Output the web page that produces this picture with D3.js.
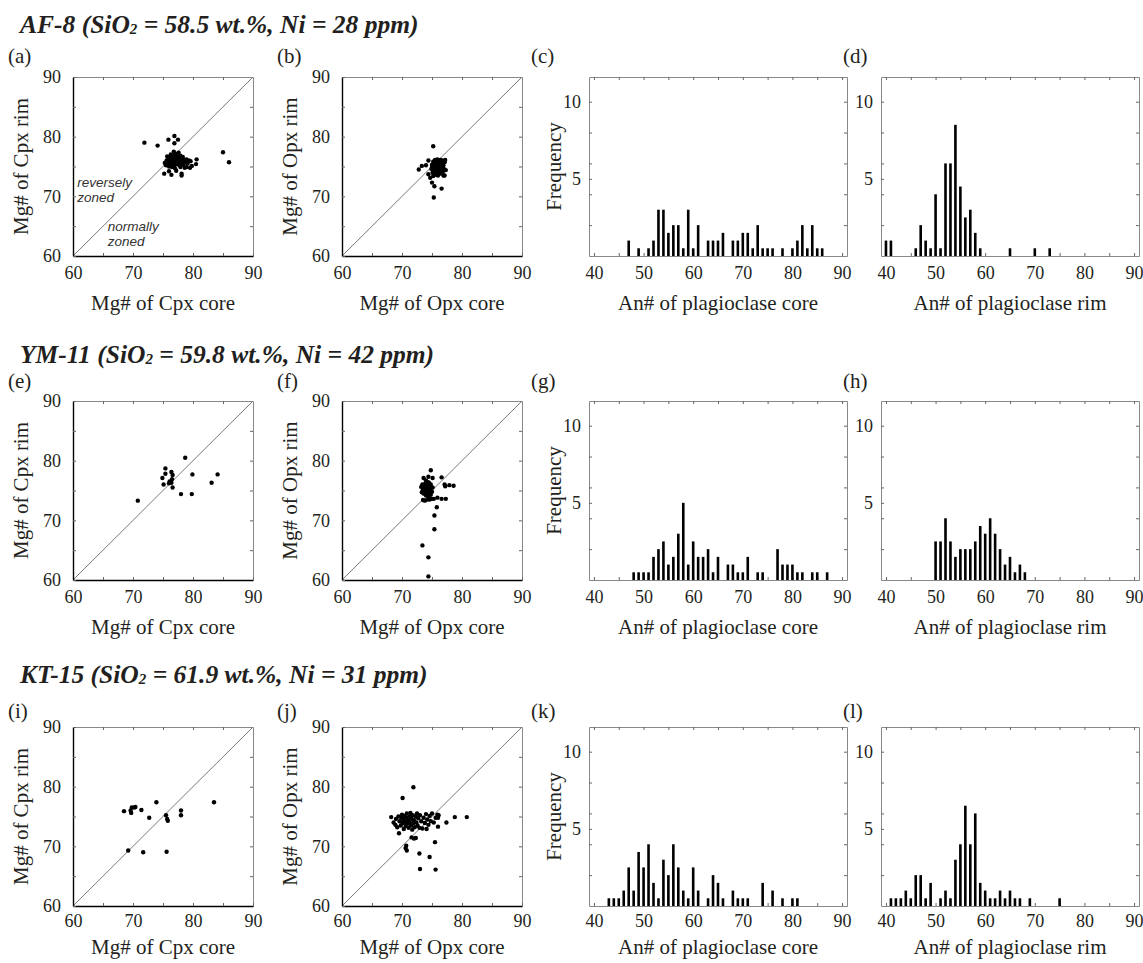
<!DOCTYPE html>
<html><head><meta charset="utf-8">
<script src="https://cdn.jsdelivr.net/npm/d3@7"></script>
<style>body{margin:0;background:#fff}svg{display:block}</style>
</head><body>
<svg id="chart" width="1143" height="963"></svg>
<script>
// ---------- data ----------
const sampleNames = ['AF-8', 'YM-11', 'KT-15'];
const sio2Values = ['58.5', '59.8', '61.9'];
const niValues = ['28', '42', '31'];
const panelLetters = [['(a)','(b)','(c)','(d)'],['(e)','(f)','(g)','(h)'],['(i)','(j)','(k)','(l)']];
const scatterTicks = [60, 70, 80, 90];
const histTicks = [40, 50, 60, 70, 80, 90];
const freqTicks = [5, 10];

// Mg# core vs rim [core, rim]
const cpxAF8 = [[71.9,79.0],[74.1,78.5],[75.9,79.5],[76.9,80.1],[77.5,79.5],[76.9,78.9],[85.0,77.4],[86.0,75.7],
 [75.2,73.8],[76.4,73.6],[77.2,74.3],[78.1,73.5],[78.1,73.8],[78.9,74.9],[79.8,75.1],[80.6,76.2],[80.5,75.4],[79.5,74.8],[76.0,74.2],
 [75.3,75.6],[75.5,75.2],[75.6,76.0],[75.8,75.5],[75.9,76.3],[76.0,75.0],[76.1,75.8],[76.2,76.5],[76.3,75.3],[76.4,76.0],[76.5,76.8],
 [76.6,75.6],[76.7,76.2],[76.8,75.1],[76.9,76.6],[77.0,75.9],[77.0,77.2],[77.1,76.4],[77.2,75.4],[77.3,76.9],[77.4,76.1],[77.5,75.7],
 [77.6,77.3],[77.6,76.5],[77.7,75.2],[77.8,76.0],[77.9,76.8],[78.0,75.5],[78.1,76.3],[78.2,75.9],[78.3,76.6],[78.4,75.3],[78.5,76.1],
 [78.7,75.7],[78.9,76.2],[79.1,75.5],[79.3,76.0],[79.6,75.9],[76.3,77.0],[76.8,77.5],[77.4,77.0],[75.7,76.7],[77.9,74.9],[78.6,74.8],
 [77.0,74.7],[76.5,74.9]];
const opxAF8 = [[75.2,78.4],[72.8,74.5],[73.3,75.1],[74.0,75.2],[74.4,76.0],[74.4,73.7],[74.7,73.1],[75.0,72.3],[75.4,71.7],[75.3,69.8],
 [76.6,71.3],[77.2,76.1],[77.1,73.5],
 [74.9,74.6],[75.0,75.3],[75.1,74.0],[75.2,75.8],[75.3,74.8],[75.4,75.4],[75.5,74.2],[75.5,76.1],[75.6,75.0],[75.7,74.5],[75.8,75.6],
 [75.9,74.0],[75.9,76.2],[76.0,75.2],[76.1,74.6],[76.2,75.8],[76.3,73.8],[76.3,75.0],[76.4,74.3],[76.5,75.5],[76.6,74.8],[76.7,76.0],
 [76.8,74.1],[76.9,75.2],[77.0,74.6],[77.1,75.7],[77.3,74.4],[75.6,73.6],[76.0,73.5],[75.2,73.4],[76.9,73.5],[75.8,74.3],[76.2,74.9],
 [75.4,75.9],[76.6,75.6],[75.0,74.9],[76.4,76.1],[75.7,75.3]];
const cpxYM11 = [[70.8,73.3],[75.4,78.7],[75.4,77.8],[74.9,77.1],[75.1,76.0],[76.4,78.1],[76.6,77.6],[76.1,76.5],[76.4,76.3],[76.6,75.5],
 [76.0,76.2],[76.5,76.9],[78.7,80.5],[79.9,77.7],[78.0,74.4],[79.8,74.4],[83.1,76.3],[84.1,77.7]];
const opxYM11 = [[74.8,78.4],[74.4,77.3],[73.6,77.1],[75.1,77.1],[76.6,77.2],[77.1,76.0],[77.2,75.7],[77.9,75.9],[78.6,75.8],[75.9,73.8],
 [76.6,73.6],[77.3,73.6],[75.8,72.2],[75.4,70.8],[75.4,68.5],[73.4,65.8],[74.4,63.8],[74.4,60.6],[73.8,73.3],
 [73.2,75.6],[73.4,76.0],[73.5,75.2],[73.6,74.5],[73.7,75.8],[73.8,74.9],[73.9,76.2],[74.0,75.4],[74.0,74.2],[74.1,75.9],[74.2,74.7],
 [74.3,75.2],[74.3,76.4],[74.4,74.0],[74.5,75.6],[74.6,74.5],[74.7,75.1],[74.8,76.0],[74.9,73.6],[75.0,74.8],[75.1,75.5],[74.2,73.5],
 [73.5,73.4],[74.6,73.5],[75.3,73.6],[74.0,76.7],[73.3,74.7],[74.8,74.3],[73.9,74.6],[74.5,76.3]];
const cpxKT15 = [[68.5,75.9],[69.6,76.0],[69.8,76.5],[70.2,76.5],[70.4,76.6],[69.7,75.6],[71.4,76.1],[73.9,77.4],[72.7,74.8],[75.5,75.2],
 [75.7,74.6],[75.8,74.3],[78.0,76.0],[78.0,75.2],[83.5,77.4],[69.2,69.3],[71.7,69.0],[75.6,69.1]];
const opxKT15 = [[70.1,78.1],[71.9,79.9],[68.2,74.9],[78.8,74.9],[80.8,74.9],[77.4,74.0],[76.0,73.3],[76.1,75.2],[76.0,74.8],[75.5,70.7],
 [74.6,68.2],[72.9,68.8],[73.0,66.2],[75.6,66.1],[70.7,70.1],[70.6,69.7],[70.8,69.3],[71.6,71.5],[72.0,71.3],[72.3,71.4],[69.5,72.2],[74.1,72.9],
 [68.6,74.0],[68.9,73.6],[69.0,74.6],[69.2,73.2],[69.4,75.0],[69.6,74.2],[69.8,73.5],[69.9,74.8],[70.0,75.3],[70.1,73.9],[70.2,74.5],
 [70.3,72.9],[70.4,75.1],[70.5,74.1],[70.6,73.4],[70.7,74.8],[70.8,75.5],[70.9,73.8],[71.0,74.4],[71.1,73.1],[71.2,75.0],[71.3,74.0],
 [71.4,75.6],[71.5,73.5],[71.6,74.6],[71.7,72.8],[71.8,75.2],[71.9,73.9],[72.0,74.4],[72.1,73.2],[72.3,75.0],[72.4,74.0],[72.6,73.5],
 [72.7,74.7],[72.9,73.1],[73.0,75.2],[73.2,74.2],[73.4,73.0],[73.6,74.8],[73.8,73.9],[74.0,75.4],[74.2,74.5],[74.4,73.6],[74.6,75.1],
 [74.8,74.2],[75.0,75.5],[75.3,74.0],[75.6,74.8],[75.9,75.3],[72.5,75.5],[70.3,74.0],[71.5,74.9]];

// An# histograms
const coreAF8Bins = [47,49,51,52,53,54,55,56,57,58,59,60,61,63,64,65,66,68,69,70,71,72,73,74,75,76,78,80,81,82,83,84,85,86];
const coreAF8Freq = [1,0.5,0.5,1,3,3,1.5,2,2,0.5,3,0.5,2,1,1,1,1.5,1,1,1.5,1.5,0.5,2,0.5,0.5,0.5,0.5,0.5,1,2,0.5,2,0.5,0.5];
const rimAF8Bins = [40,41,46,47,48,49,50,51,52,53,54,55,56,57,58,59,65,70,73];
const rimAF8Freq = [1,1,0.5,2,1,0.5,4,0.5,6,6,8.5,4.5,2.5,3,1.5,0.5,0.5,0.5,0.5];
const coreYM11Bins = [48,49,50,51,52,53,54,55,56,57,58,59,60,61,62,63,64,65,67,68,69,70,71,73,74,77,78,79,80,81,82,84,85,87];
const coreYM11Freq = [0.5,0.5,0.5,0.5,1.5,2,2.5,1,1.5,3,5,1,2.5,1.5,1.5,2,0.5,1.5,1,1,0.5,0.5,1.5,0.5,0.5,2,1,1,1,0.5,0.5,0.5,0.5,0.5];
const rimYM11Bins = [50,51,52,53,54,55,56,57,58,59,60,61,62,63,64,65,66,67,68];
const rimYM11Freq = [2.5,2.5,4,2.5,1.5,2,2,2,2.5,3.5,3,4,3,2,1,1.5,0.5,1,0.5];
const coreKT15Bins = [43,44,45,46,47,48,49,50,51,52,53,54,55,56,57,58,59,60,61,63,64,65,66,68,69,70,71,74,76,78,80,81];
const coreKT15Freq = [0.5,0.5,0.5,1,2.5,1,3.5,2.5,4,1.5,0.5,3,2,4,2.5,1,0.5,2.5,1,0.5,2,1.5,0.5,1,0.5,0.5,0.5,1.5,1,0.5,0.5,0.5];
const rimKT15Bins = [41,42,43,44,45,46,47,48,49,51,52,53,54,55,56,57,58,59,60,61,62,63,64,65,66,67,69,75];
const rimKT15Freq = [0.5,0.5,0.5,1,0.5,2,2,0.5,1.5,0.5,1,0.5,3,4,6.5,4,6,1.5,1,0.5,0.5,1,0.5,1,0.5,0.5,0.5,0.5];

const rows = [
  {cpx: cpxAF8, opx: opxAF8, core: [coreAF8Bins, coreAF8Freq], rim: [rimAF8Bins, rimAF8Freq]},
  {cpx: cpxYM11, opx: opxYM11, core: [coreYM11Bins, coreYM11Freq], rim: [rimYM11Bins, rimYM11Freq]},
  {cpx: cpxKT15, opx: opxKT15, core: [coreKT15Bins, coreKT15Freq], rim: [rimKT15Bins, rimKT15Freq]}
];

// ---------- layout ----------
const SERIF = '"Liberation Serif","Times New Roman",serif';
const SANS = '"Liberation Sans",Arial,sans-serif';
const rowTops = [77, 401, 727];
const titleY = [33, 363, 683];
const letterY = [63, 388, 718];
const xTitleOffset = [54, 54, 48];
const xTickPad = [10, 10, 8];
const letterX = [8, 277, 531, 843];
const scatterX = [73, 342];
const histX = [589, 881];
const SW = 180, HW = 258, PH = 179;

const svg = d3.select('#chart');

function styleAxis(g, pathColor, pathWidth) {
  g.select('.domain').attr('stroke', pathColor).attr('stroke-width', pathWidth);
  g.selectAll('.tick line').attr('stroke', '#666').attr('stroke-width', 1);
  g.selectAll('.tick text').attr('font-family', SERIF).attr('font-size', 18).attr('fill', '#231f20');
}

function scatter(px, py, data, mineral, annotate, ri) {
  const x = d3.scaleLinear().domain([60, 90]).range([px, px + SW]);
  const y = d3.scaleLinear().domain([60, 90]).range([py + PH, py]);
  const g = svg.append('g');
  const minor = [60, 65, 70, 75, 80, 85, 90];
  const lab = d => scatterTicks.includes(d) ? d : '';
  g.append('g').attr('transform', `translate(0,${py})`)
    .call(d3.axisTop(x).tickValues(minor.slice(1, -1)).tickSizeInner(-3).tickSizeOuter(0).tickFormat(''))
    .call(a => styleAxis(a, '#888', 1));
  g.append('g').attr('transform', `translate(${px + SW},0)`)
    .call(d3.axisRight(y).tickValues(minor.slice(1, -1)).tickSizeInner(-3).tickSizeOuter(0).tickFormat(''))
    .call(a => styleAxis(a, '#888', 1));
  g.append('line').attr('x1', x(60)).attr('y1', y(60)).attr('x2', x(90)).attr('y2', y(90))
    .attr('stroke', '#7a7a7a').attr('stroke-width', 1);
  g.append('g').attr('transform', `translate(0,${py + PH})`)
    .call(d3.axisBottom(x).tickValues(minor).tickSizeInner(-3).tickSizeOuter(0).tickPadding(xTickPad[ri]).tickFormat(lab))
    .call(a => styleAxis(a, '#000', 1.4));
  g.append('g').attr('transform', `translate(${px},0)`)
    .call(d3.axisLeft(y).tickValues(minor).tickSizeInner(-3).tickSizeOuter(0).tickPadding(12).tickFormat(lab))
    .call(a => styleAxis(a, '#000', 1.4));
  g.selectAll('circle.pt').data(data).join('circle').attr('class', 'pt')
    .attr('cx', d => x(d[0])).attr('cy', d => y(d[1])).attr('r', 2.2).attr('fill', '#000');
  g.append('text').attr('x', px + SW / 2).attr('y', py + PH + xTitleOffset[ri]).attr('text-anchor', 'middle')
    .attr('font-family', SERIF).attr('font-size', 21).attr('fill', '#231f20').text(`Mg# of ${mineral} core`);
  g.append('text').attr('transform', `translate(${px - 45},${py + PH / 2}) rotate(-90)`).attr('text-anchor', 'middle')
    .attr('font-family', SERIF).attr('font-size', 21).attr('fill', '#231f20').text(`Mg# of ${mineral} rim`);
  if (annotate) {
    const ann = (t, vx, vy) => g.append('text').attr('x', x(vx)).attr('y', y(vy)).attr('font-family', SANS)
      .attr('font-style', 'italic').attr('font-size', 13.5).attr('fill', '#333').text(t);
    ann('reversely', 60.7, 71.6); ann('zoned', 60.7, 69.1);
    ann('normally', 65.8, 64.2); ann('zoned', 65.8, 61.7);
  }
}

function histogram(px, py, bins, freq, xlabel, showYTitle, ri) {
  const x = d3.scaleLinear().domain([39, 91]).range([px, px + HW]);
  const y = d3.scaleLinear().domain([0, 11.6]).range([py + PH, py]);
  const g = svg.append('g');
  const xminor = d3.range(40, 91, 5);
  g.append('g').attr('transform', `translate(0,${py})`)
    .call(d3.axisTop(x).tickValues(xminor).tickSizeInner(-3).tickSizeOuter(0).tickFormat(''))
    .call(a => styleAxis(a, '#888', 1));
  g.append('g').attr('transform', `translate(${px + HW},0)`)
    .call(d3.axisRight(y).tickValues([2, 4, 6, 8, 10]).tickSizeInner(-3).tickSizeOuter(0).tickFormat(''))
    .call(a => styleAxis(a, '#888', 1));
  g.append('g').attr('transform', `translate(0,${py + PH})`)
    .call(d3.axisBottom(x).tickValues(xminor).tickSizeInner(-3).tickSizeOuter(0).tickPadding(xTickPad[ri])
      .tickFormat(d => histTicks.includes(d) ? d : ''))
    .call(a => styleAxis(a, '#888', 1));
  g.append('g').attr('transform', `translate(${px},0)`)
    .call(d3.axisLeft(y).tickValues([2, 4, 5, 6, 8, 10]).tickSizeInner(-3).tickSizeOuter(0).tickPadding(8)
      .tickFormat(d => freqTicks.includes(d) ? d : ''))
    .call(a => styleAxis(a, '#888', 1));
  const bw = 2.6;
  g.selectAll('rect.bar').data(bins.map((b, i) => [b, freq[i]])).join('rect').attr('class', 'bar')
    .attr('x', d => x(d[0]) - bw / 2).attr('width', bw)
    .attr('y', d => y(d[1])).attr('height', d => y(0) - y(d[1])).attr('fill', '#000');
  g.append('text').attr('x', px + HW / 2).attr('y', py + PH + xTitleOffset[ri]).attr('text-anchor', 'middle')
    .attr('font-family', SERIF).attr('font-size', 21).attr('fill', '#231f20').text(xlabel);
  if (showYTitle) {
    g.append('text').attr('transform', `translate(${px - 28},${py + PH / 2}) rotate(-90)`).attr('text-anchor', 'middle')
      .attr('font-family', SERIF).attr('font-size', 21).attr('fill', '#231f20').text('Frequency');
  }
}

rows.forEach((r, i) => {
  const top = rowTops[i];
  const t = svg.append('text').attr('x', 20).attr('y', titleY[i]).attr('font-family', SERIF)
    .attr('font-weight', 'bold').attr('font-style', 'italic').attr('font-size', 25.5).attr('fill', '#231f20');
  t.append('tspan').text(`${sampleNames[i]} (SiO`);
  t.append('tspan').attr('font-size', 15).attr('dy', 1).text('2');
  t.append('tspan').attr('dy', -1).text(` = ${sio2Values[i]} wt.%, Ni = ${niValues[i]} ppm)`);
  panelLetters[i].forEach((l, j) => {
    svg.append('text').attr('x', letterX[j]).attr('y', letterY[i]).attr('font-family', SERIF)
      .attr('font-size', 21).attr('fill', '#231f20').text(l);
  });
  scatter(scatterX[0], top, r.cpx, 'Cpx', i === 0, i);
  scatter(scatterX[1], top, r.opx, 'Opx', false, i);
  histogram(histX[0], top, r.core[0], r.core[1], 'An# of plagioclase core', true, i);
  histogram(histX[1], top, r.rim[0], r.rim[1], 'An# of plagioclase rim', false, i);
});
</script>
</body></html>
